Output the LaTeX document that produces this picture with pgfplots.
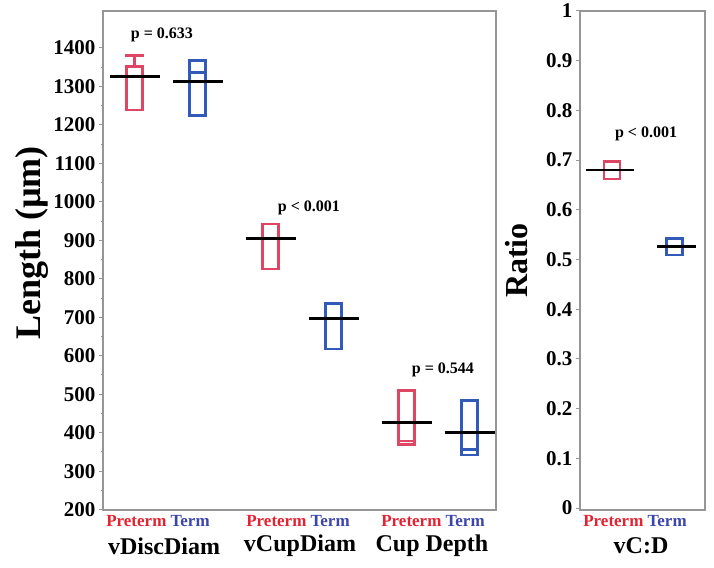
\documentclass[border=0pt]{standalone}
\usepackage{fontspec}
\setmainfont{Liberation Serif}
\usepackage{pgfplots}
\pgfplotsset{compat=1.18}
\definecolor{prebox}{RGB}{222,70,100}
\definecolor{termbox}{RGB}{50,90,185}
\definecolor{pretxt}{RGB}{228,35,50}
\definecolor{termtxt}{RGB}{60,70,170}
\definecolor{axgray}{RGB}{150,150,150}
\newcommand{\grp}{\textcolor{pretxt}{Preterm} \textcolor{termtxt}{Term}}
\begin{document}
\begin{tikzpicture}
\path[use as bounding box] (0,0) rectangle (714pt,567pt);
\pgfplotsset{
  common/.style={
    scale only axis, height=499pt, anchor=south west,
    axis line style={draw=axgray, line width=1.2pt},
    tick style={draw=axgray, line width=1pt},
    major tick length=4pt, minor tick length=2.5pt,
    tick align=outside, ytick pos=left, xtick=\empty,
    yticklabel style={font=\bfseries\fontsize{21}{21}\selectfont},
    /pgf/number format/assume math mode=true,
    /pgf/number format/1000 sep={},
    clip=false,
  },
  bx/.style={line width=2.4pt, solid, line cap=rect, line join=miter, mark=none},
  mean/.style={black, line width=2.6pt, mark=none},
}
\begin{axis}[common, at={(103pt,57pt)}, width=393pt,
  xmin=0, xmax=393, ymin=199, ymax=1496,
  ytick={200,300,...,1400}, minor y tick num=1]
% vDiscDiam preterm: box 1238-1352, upper whisker 1380
\addplot[bx, prebox] coordinates {(23.5,1238) (39.5,1238) (39.5,1352) (23.5,1352) (23.5,1238)};
\addplot[bx, prebox] coordinates {(31.5,1352) (31.5,1380)};
\addplot[bx, prebox] coordinates {(23.5,1380) (39.5,1380)};
% vDiscDiam term: box 1224-1367, median 1336
\addplot[bx, termbox] coordinates {(86.5,1224) (102.5,1224) (102.5,1367) (86.5,1367) (86.5,1224)};
\addplot[bx, termbox] coordinates {(86.5,1336) (102.5,1336)};
% vCupDiam preterm: 826-943
\addplot[bx, prebox] coordinates {(159.5,826) (175.5,826) (175.5,943) (159.5,943) (159.5,826)};
% vCupDiam term: 617-736
\addplot[bx, termbox] coordinates {(222.5,617) (238.5,617) (238.5,736) (222.5,736) (222.5,617)};
% Cup Depth preterm: 369-510, median 378
\addplot[bx, prebox] coordinates {(295.5,369) (311.5,369) (311.5,510) (295.5,510) (295.5,369)};
\addplot[bx, prebox] coordinates {(295.5,378) (311.5,378)};
% Cup Depth term: 342-484, median 356
\addplot[bx, termbox] coordinates {(358.5,342) (374.5,342) (374.5,484) (358.5,484) (358.5,342)};
\addplot[bx, termbox] coordinates {(358.5,356) (374.5,356)};
% mean lines
\addplot[mean] coordinates {(6.5,1326) (56.5,1326)};
\addplot[mean] coordinates {(69.5,1313) (119.5,1313)};
\addplot[mean] coordinates {(142.5,905) (192.5,905)};
\addplot[mean] coordinates {(205.5,697) (255.5,697)};
\addplot[mean] coordinates {(278.5,426) (328.5,426)};
\addplot[mean] coordinates {(341.5,400) (391.5,400)};
% p values
\node[font=\bfseries\fontsize{16}{16}\selectfont] at (axis cs:59,1434) {p = 0.633};
\node[font=\bfseries\fontsize{16}{16}\selectfont] at (axis cs:206,985) {p < 0.001};
\node[font=\bfseries\fontsize{16}{16}\selectfont] at (axis cs:340,564) {p = 0.544};
% category labels
\node[font=\bfseries\fontsize{17}{17}\selectfont] at ([yshift=-11pt]axis cs:55,199) {\grp};
\node[font=\bfseries\fontsize{17}{17}\selectfont] at ([yshift=-11pt]axis cs:195,199) {\grp};
\node[font=\bfseries\fontsize{17}{17}\selectfont] at ([yshift=-11pt]axis cs:330,199) {\grp};
\node[font=\bfseries\fontsize{24}{24}\selectfont] at ([yshift=-36pt]axis cs:61,199) {vDiscDiam};
\node[font=\bfseries\fontsize{24}{24}\selectfont] at ([yshift=-36pt]axis cs:197,199) {vCupDiam};
\node[font=\bfseries\fontsize{24}{24}\selectfont] at ([yshift=-36pt]axis cs:329,199) {Cup Depth};
\node[rotate=90, font=\bfseries\fontsize{36}{36}\selectfont] at ([xshift=-71pt]rel axis cs:0,0.535) {Length (µm)};
\end{axis}
\begin{axis}[common, at={(580pt,57pt)}, width=125pt,
  xmin=0, xmax=125, ymin=-0.004, ymax=1.0,
  ytick={0,0.1,0.2,0.3,0.4,0.5,0.6,0.7,0.8,0.9,1},
  yticklabels={0,0.1,0.2,0.3,0.4,0.5,0.6,0.7,0.8,0.9,1}]
\addplot[bx, prebox] coordinates {(24,0.662) (40,0.662) (40,0.697) (24,0.697) (24,0.662)};
\addplot[bx, termbox] coordinates {(86.5,0.509) (102.5,0.509) (102.5,0.542) (86.5,0.542) (86.5,0.509)};
\addplot[bx, termbox] coordinates {(86.5,0.525) (102.5,0.525)};
\addplot[mean] coordinates {(6,0.680) (54,0.680)};
\addplot[mean] coordinates {(76.5,0.526) (116,0.526)};
\node[font=\bfseries\fontsize{16}{16}\selectfont] at (axis cs:66,0.753) {p < 0.001};
\node[font=\bfseries\fontsize{17}{17}\selectfont] at ([yshift=-11pt]axis cs:55,-0.004) {\grp};
\node[font=\bfseries\fontsize{24}{24}\selectfont] at ([yshift=-36pt]axis cs:61,-0.004) {vC:D};
\node[rotate=90, font=\bfseries\fontsize{32}{32}\selectfont] at ([xshift=-63pt]rel axis cs:0,0.5) {Ratio};
\end{axis}
\end{tikzpicture}
\end{document}
